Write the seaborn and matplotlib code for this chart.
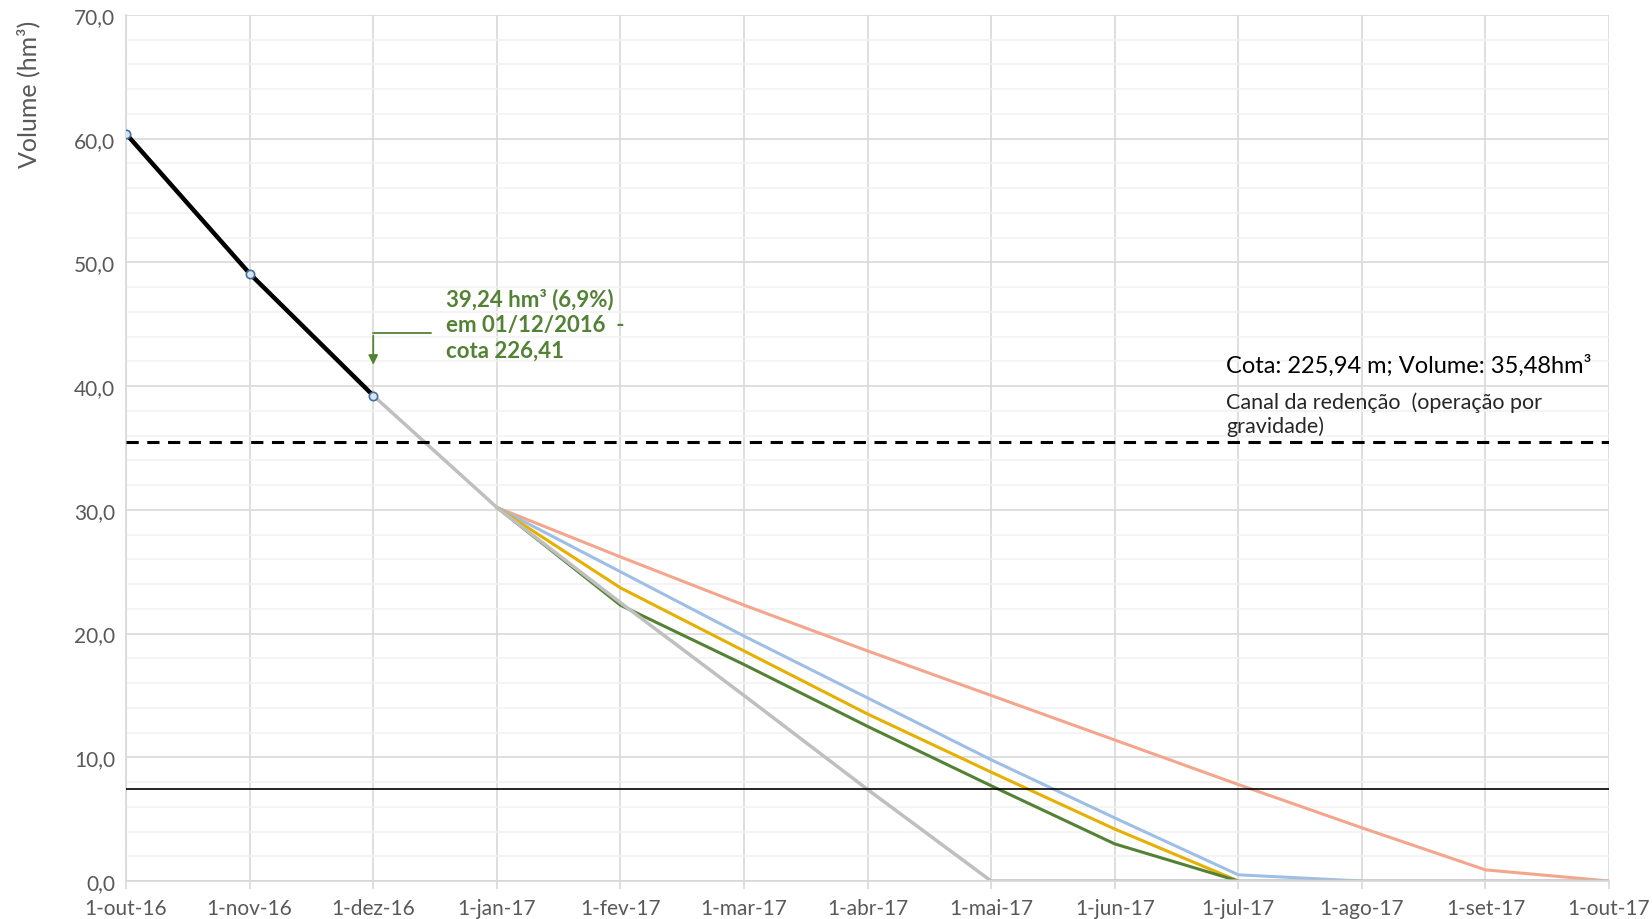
"""
Volume do reservatório - observado e cenários de esvaziamento
"""

import pandas as pd
import matplotlib.pyplot as plt
import seaborn as sns
import numpy as np
from matplotlib.ticker import MultipleLocator, FuncFormatter

sns.set_theme(style='whitegrid')
plt.rcParams['font.family'] = ['Lato', 'DejaVu Sans']

# Dados
meses = ['1-out-16', '1-nov-16', '1-dez-16', '1-jan-17', '1-fev-17', '1-mar-17',
         '1-abr-17', '1-mai-17', '1-jun-17', '1-jul-17', '1-ago-17', '1-set-17',
         '1-out-17']

observado = [60.4, 49.1, 39.24]

# cenários a partir de jan-17
cenario_laranja = [30.2, 26.2, 22.3, 18.6, 15.0, 11.4, 7.8, 4.3, 0.9, 0.0]
cenario_azul = [30.2, 25.0, 19.8, 14.8, 9.8, 5.1, 0.5, 0.0]
cenario_amarelo = [30.2, 23.7, 18.6, 13.5, 8.8, 4.2, 0.0]
cenario_verde = [30.2, 22.3, 17.5, 12.5, 7.7, 3.0, 0.0]
# cenário cinza a partir de dez-16
cenario_cinza = [39.24, 30.2, 22.5, 15.0, 7.4, 0.0, 0.0, 0.0, 0.0, 0.0, 0.0]

cota_canal = 35.48
volume_minimo = 7.4

cores = {
    'laranja': '#F4A68C',
    'azul': '#9DBFE6',
    'amarelo': '#E6B000',
    'verde': '#548235',
    'cinza': '#BFBFBF',
}

fig = plt.figure(figsize=(16.52, 9.20), dpi=100)
ax = fig.add_axes([0.0763, 0.0413, 0.8977, 0.9413])

serie = lambda inicio, vals: pd.DataFrame({'x': np.arange(inicio, inicio + len(vals)), 'v': vals})

sns.lineplot(data=serie(3, cenario_laranja), x='x', y='v', color=cores['laranja'], lw=2.2, ax=ax)
sns.lineplot(data=serie(3, cenario_azul), x='x', y='v', color=cores['azul'], lw=2.2, ax=ax)
sns.lineplot(data=serie(3, cenario_amarelo), x='x', y='v', color=cores['amarelo'], lw=2.2, ax=ax)
sns.lineplot(data=serie(3, cenario_verde), x='x', y='v', color=cores['verde'], lw=2.2, ax=ax)
sns.lineplot(data=serie(2, cenario_cinza), x='x', y='v', color=cores['cinza'], lw=2.5, ax=ax)
sns.lineplot(data=serie(0, observado), x='x', y='v', color='black', lw=3.2, ax=ax,
             marker='o', markersize=6, markerfacecolor='#DAE3F3',
             markeredgecolor='#41719C', markeredgewidth=1.2, zorder=5)

ax.axhline(cota_canal, color='black', lw=2.2, ls=(0, (4, 2.8)), zorder=4)
ax.axhline(volume_minimo, color='black', lw=1.2, zorder=4)

# Eixos
ax.set_xlim(0, len(meses) - 1)
ax.set_ylim(0, 70)
ax.set_xticks(range(len(meses)))
ax.set_xticklabels(meses)
ax.yaxis.set_major_locator(MultipleLocator(10))
ax.yaxis.set_minor_locator(MultipleLocator(2))
ax.yaxis.set_major_formatter(FuncFormatter(lambda v, p: f'{v:.1f}'.replace('.', ',')))
ax.grid(which='major', color='#D9D9D9', lw=1.2)
ax.grid(which='minor', axis='y', color='#F2F2F2', lw=1.2)
ax.tick_params(axis='both', labelsize=15, colors='#595959')
ax.tick_params(axis='x', length=6, color='#D9D9D9', direction='out', bottom=True, pad=6)
ax.tick_params(axis='y', length=0, pad=8)
for s in ['top', 'right']:
    ax.spines[s].set_visible(False)
ax.spines['left'].set_color('#D9D9D9')
ax.spines['bottom'].set_color('#D9D9D9')
ax.set_xlabel('')
ax.set_ylabel('Volume (hm³)', fontsize=18, color='#595959')
ax.yaxis.set_label_coords(-0.058, 0.91)

# Anotações
ax.annotate('', xy=(2, 41.5), xytext=(2.0, 44.3),
            arrowprops=dict(arrowstyle='-|>', color='#548235', lw=1.3, mutation_scale=14))
ax.plot([2, 2.47], [44.3, 44.3], color='#548235', lw=1.3)
ax.text(2.59, 48.0, '39,24 hm³ (6,9%)\nem 01/12/2016  -\ncota 226,41', color='#548235',
        fontsize=16, fontweight='bold', va='top', ha='left', linespacing=1.3)

ax.text(8.9, 41.7, 'Cota: 225,94 m; Volume: 35,48hm³', fontsize=17, color='black',
        ha='left', va='center')
ax.text(8.9, 36.0, 'Canal da redenção  (operação por\ngravidade)', fontsize=15.5,
        color='#262626', ha='left', va='bottom', linespacing=1.2)

plt.savefig('out.png', dpi=100)
plt.close()
